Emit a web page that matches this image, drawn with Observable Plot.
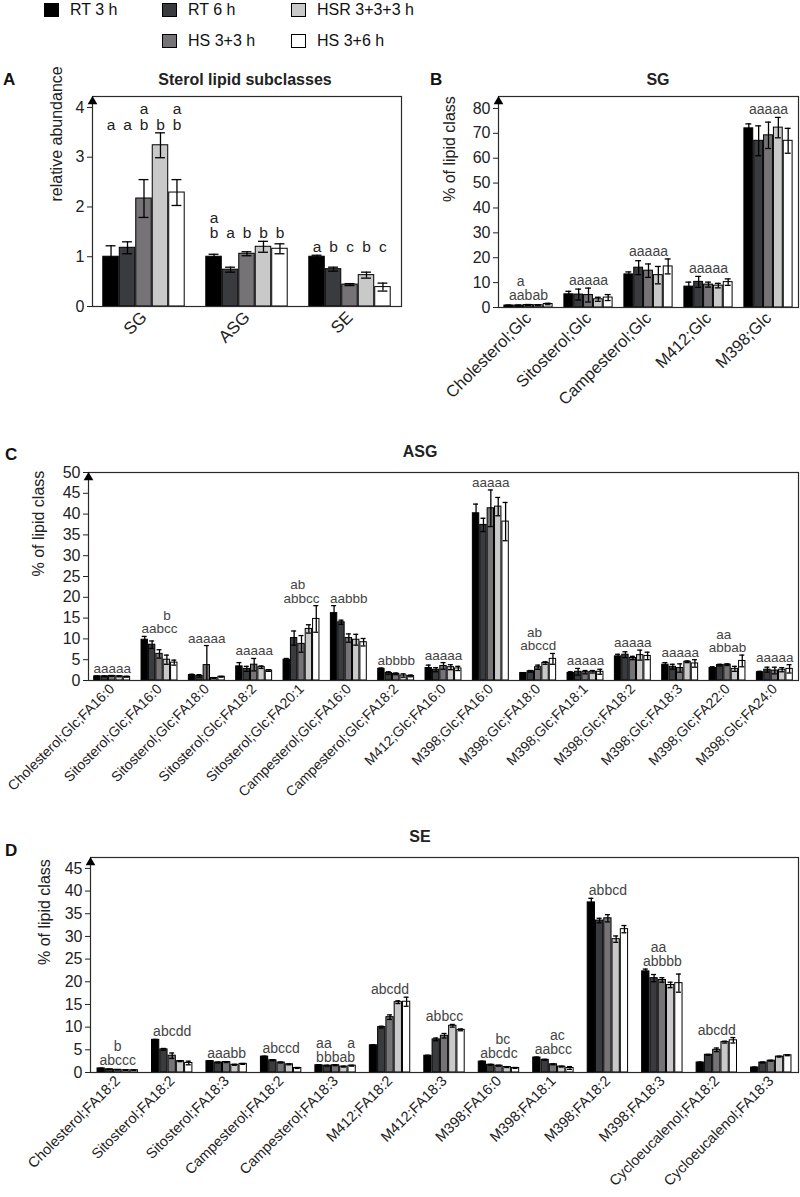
<!DOCTYPE html>
<html><head><meta charset="utf-8">
<script src="https://cdn.jsdelivr.net/npm/d3@7"></script>
<script src="https://cdn.jsdelivr.net/npm/@observablehq/plot@0.6"></script>
<style>
body{margin:0;background:#fff;font-family:"Liberation Sans",Arial,sans-serif;}
#root{position:relative;width:800px;height:1197px;overflow:hidden;background:#fff;}
.abs{position:absolute;line-height:18px;white-space:nowrap;}
.title{font-weight:bold;font-size:16px;color:#222;transform:translateX(-50%);}
.plabel{font-weight:bold;font-size:17px;color:#111;}
.leg{font-size:16px;color:#111;}
.sw{position:absolute;width:15px;height:14px;border:1px solid #000;box-sizing:border-box;}
svg{overflow:visible;}
</style></head><body><div id="root"></div>
<script>
const series = ["RT 3 h","RT 6 h","HS 3+3 h","HSR 3+3+3 h","HS 3+6 h"];
const colors = ["#000000","#3a3b3e","#767376","#c9c9c9","#ffffff"];

// Panel A
const aCats = ["SG","ASG","SE"];
const aMeans = [[1.0,1.18,2.17,3.24,2.29],[1.0,0.74,1.06,1.20,1.16],[1.0,0.75,0.44,0.63,0.39]];
const aErrs = [[0.22,0.12,0.38,0.25,0.26],[0.05,0.05,0.04,0.11,0.10],[0.03,0.04,0.02,0.06,0.08]];
const aTop = ["  a a","a    ","     "];
const aBot = ["aabbb","babbb","abcbc"];
const aTicks = [0,1,2,3,4];

// Panel B
const bCats = ["Cholesterol;Glc","Sitosterol;Glc","Campesterol;Glc","M412;Glc","M398;Glc"];
const bMeans = [[0.8,0.8,1.0,0.9,1.4],[5.3,5.2,5.0,3.3,4.0],[13.3,16.0,14.8,13.0,16.5],[8.4,10.3,9.2,8.8,10.2],[72.0,67.0,69.2,72.3,67.0]];
const bErrs = [[0.2,0.2,0.2,0.2,0.3],[1.2,2.2,2.8,0.8,1.2],[1.0,2.8,2.7,3.5,3.0],[1.8,2.2,1.0,0.9,1.3],[1.8,6.0,5.3,4.1,5.0]];
const bTop = [" a   ","     ","     ","     ","     "];
const bBot = ["aabab","aaaaa","aaaaa","aaaaa","aaaaa"];
const bTicks = [0,10,20,30,40,50,60,70,80];

// Panel C
const cCats = ["Cholesterol;Glc;FA16:0","Sitosterol;Glc;FA16:0","Sitosterol;Glc;FA18:0","Sitosterol;Glc;FA18:2","Sitosterol;Glc;FA20:1","Campesterol;Glc;FA16:0","Campesterol;Glc;FA18:2","M412;Glc;FA16:0","M398;Glc;FA16:0","M398;Glc;FA18:0","M398;Glc;FA18:1","M398;Glc;FA18:2","M398;Glc;FA18:3","M398;Glc;FA22:0","M398;Glc;FA24:0"];
const cMeans = [
  [1.0,1.0,1.1,1.0,0.9],[9.8,8.6,6.4,5.0,4.3],[1.3,1.1,3.7,0.6,0.9],[3.4,2.8,3.8,3.2,2.4],
  [5.0,10.2,8.8,12.4,14.8],[16.2,14.0,10.2,9.8,9.2],[2.8,1.8,1.6,1.2,1.1],[3.0,2.6,3.5,3.2,2.9],
  [40.2,37.4,41.4,41.8,38.2],[1.8,2.2,3.2,4.2,5.2],[1.8,2.1,2.0,2.1,2.1],[5.8,6.2,5.4,6.1,5.9],
  [3.8,3.3,3.0,4.5,4.1],[3.0,3.7,3.8,2.8,4.7],[2.0,2.6,2.4,2.6,2.8]];
const cErrs = [
  [0.1,0.1,0.1,0.1,0.1],[0.8,0.9,1.0,1.1,0.6],[0.2,0.3,4.7,0.1,0.1],[0.9,0.6,1.5,0.3,0.2],
  [0.3,1.7,2.0,1.0,3.2],[1.8,0.5,1.0,1.3,0.9],[0.2,0.3,0.2,0.4,0.2],[0.7,0.5,0.8,0.6,0.5],
  [2.2,1.6,4.4,2.2,4.6],[0.1,0.2,0.5,0.3,1.3],[0.3,0.8,0.4,0.3,0.6],[0.5,0.7,0.4,1.2,0.9],
  [0.5,0.6,1.0,0.2,0.9],[0.3,0.2,0.2,0.6,1.4],[0.2,0.6,0.8,0.5,1.0]];
const cTop = ["     ","   b ","     ","     "," ab  ","     ","     ","     ","     "," ab  ","     ","     ","     "," aa  ","     "];
const cBot = ["aaaaa","aabcc","aaaaa","aaaaa","abbcc","aabbb","abbbb","aaaaa","aaaaa","abccd","aaaaa","aaaaa","aaaaa","abbab","aaaaa"];
const cTicks = [0,5,10,15,20,25,30,35,40,45,50];

// Panel D
const dCats = ["Cholesterol;FA18:2","Sitosterol;FA18:2","Sitosterol;FA18:3","Campesterol;FA18:2","Campesterol;FA18:3","M412;FA18:2","M412;FA18:3","M398;FA16:0","M398;FA18:1","M398;FA18:2","M398;FA18:3","Cycloeucalenol;FA18:2","Cycloeucalenol;FA18:3"];
const dMeans = [
  [0.9,0.7,0.6,0.5,0.5],[7.2,5.1,3.7,2.5,2.1],[2.5,2.2,2.3,1.7,1.9],[3.5,2.7,2.2,1.8,1.0],
  [1.6,1.5,1.6,1.3,1.5],[6.0,10.0,12.2,15.5,15.6],[3.7,7.3,8.1,10.3,9.4],[2.4,1.7,1.5,1.2,1.0],
  [3.3,2.8,1.8,1.3,1.0],[37.5,33.5,34.0,29.4,31.6],[22.3,20.8,20.4,19.3,19.7],[2.2,3.9,5.0,6.7,7.1],
  [1.1,2.2,2.6,3.5,3.8]];
const dErrs = [
  [0.05,0.05,0.05,0.05,0.05],[0.1,0.2,0.6,0.1,0.4],[0.1,0.1,0.1,0.1,0.1],[0.1,0.1,0.1,0.1,0.1],
  [0.1,0.1,0.1,0.1,0.1],[0.1,0.2,0.5,0.3,1.0],[0.1,0.3,0.5,0.3,0.2],[0.1,0.1,0.1,0.1,0.1],
  [0.1,0.1,0.1,0.1,0.3],[0.9,0.5,0.8,0.7,0.8],[0.5,0.8,0.5,0.6,2.0],[0.1,0.1,0.4,0.2,0.6],
  [0.1,0.1,0.1,0.1,0.1]];
const dTop = ["  b  ","     ","     ","     ","aa  a","     ","     ","  bc ","  ac ","     "," aa  ","     ","     "];
const dBot = ["abccc","abcdd","aaabb","abccd","bbbab","abcdd","abbcc","abcdc","aabcc","abbcd","abbbb","abcdd","     "];
const dTicks = [0,5,10,15,20,25,30,35,40,45];

const FONT = "Liberation Sans, Arial, sans-serif";
const NB = "\u00a0\u00a0"; // two no-break spaces ~ one letter width
const root = document.getElementById("root");

function panel(o) {
  const {cats, means, errs, tops, bots} = o;
  const rows = [];
  cats.forEach((c, ci) => series.forEach((s, si) => rows.push({cat: c, si, mean: means[ci][si], err: errs[ci][si]})));
  const innerW = o.width - o.mL - o.mR;
  const step = innerW / cats.length;
  const groupW = step * (1 - o.pad);
  const barW = groupW / 5;
  const off0 = (step - groupW) / 2;
  const capHalf = Math.max(2.5, barW * 0.3);
  const marks = [];
  for (let i = 0; i < 5; i++) {
    const d = rows.filter(r => r.si === i);
    marks.push(Plot.barY(d, {x: "cat", y: "mean", fill: colors[i], stroke: "#000", strokeWidth: 1,
      insetLeft: off0 + i * barW + 0.5, insetRight: step - off0 - (i + 1) * barW + 0.5}));
  }
  for (let i = 0; i < 5; i++) {
    const d = rows.filter(r => r.si === i);
    const dx = -groupW / 2 + (i + 0.5) * barW;
    marks.push(Plot.ruleX(d, {x: "cat", y1: r => Math.max(0, r.mean - r.err), y2: r => r.mean + r.err, dx, stroke: "#000", strokeWidth: 1.3}));
    marks.push(Plot.tickY(d, {x: "cat", y: r => r.mean + r.err, insetLeft: step / 2 + dx - capHalf, insetRight: step / 2 - dx - capHalf, stroke: "#000", strokeWidth: 1.3}));
    marks.push(Plot.tickY(d.filter(r => r.mean - r.err > 0), {x: "cat", y: r => r.mean - r.err, insetLeft: step / 2 + dx - capHalf, insetRight: step / 2 - dx - capHalf, stroke: "#000", strokeWidth: 1.3}));
  }
  // significance letters (compact letter display), stacked in two lines
  const groupMax = ci => d3.max(means[ci].map((m, k) => m + errs[ci][k]));
  const tOpts = {x: "cat", y: "ymax", text: "t", lineAnchor: "bottom", lineHeight: o.lh, fontSize: o.lFont, fill: o.lColor, dy: -o.lOff};
  if (o.perBar) {
    for (let i = 0; i < 5; i++) {
      const d = cats.map((c, ci) => {
        const lines = [tops[ci][i], bots[ci][i]].filter(ch => ch !== " ");
        return {cat: c, ymax: groupMax(ci), t: lines.join("\n")};
      }).filter(t => t.t);
      marks.push(Plot.text(d, {...tOpts, dx: -groupW / 2 + (i + 0.5) * barW}));
    }
  } else {
    const d = cats.map((c, ci) => {
      const lines = [tops[ci], bots[ci]].filter(s => s.trim()).map(s => s.replace(/ /g, NB));
      return {cat: c, ymax: groupMax(ci), t: lines.join("\n")};
    }).filter(t => t.t);
    marks.push(Plot.text(d, tOpts));
  }
  marks.push(Plot.ruleY([0], {stroke: "#000", strokeWidth: 1.2}));
  marks.push(Plot.frame({stroke: "#2a2a2a", strokeWidth: 1.2}));
  marks.push(Plot.axisY({ticks: o.ticks, tickFormat: d3.format("d"), tickSize: 5, tickPadding: 3, fontSize: 16, label: null}));
  marks.push(Plot.axisX({tickRotate: o.rot, tickSize: 0, tickPadding: o.xPad, fontSize: o.xFont, label: null}));
  marks.push(Plot.text([o.yLabel], {frameAnchor: "left", rotate: -90, dx: -o.yLabOff, text: d => d, fontSize: 16, fill: "#222"}));
  marks.push(Plot.dot([0], {frameAnchor: "top-left", symbol: "triangle", r: 3.6, fill: "#000", stroke: "none", dy: 5}));
  const svg = Plot.plot({
    width: o.width, height: o.height,
    marginLeft: o.mL, marginRight: o.mR, marginTop: o.mT, marginBottom: o.mB,
    style: {fontFamily: FONT, fontSize: "16px", color: "#222", background: "transparent", overflow: "visible"},
    x: {domain: cats, padding: 0, round: false},
    y: {domain: o.yDomain},
    marks
  });
  svg.style.position = "absolute";
  svg.style.left = o.left + "px";
  svg.style.top = o.top + "px";
  root.appendChild(svg);
}

panel({cats: aCats, means: aMeans, errs: aErrs, tops: aTop, bots: aBot, ticks: aTicks, yDomain: [0, 4.22],
  left: 0, top: 90, width: 410, height: 262, mL: 92, mR: 9, mT: 6, mB: 46, pad: 0.2, rot: -45, xFont: 17, xPad: 8,
  perBar: true, lFont: 15.5, lh: 1.0, lColor: "#222", lOff: 3, yLabel: "relative abundance", yLabOff: 36});
panel({cats: bCats, means: bMeans, errs: bErrs, tops: bTop, bots: bBot, ticks: bTicks, yDomain: [0, 84.8],
  left: 410, top: 90, width: 390, height: 300, mL: 88, mR: 2, mT: 6, mB: 83, pad: 0.18, rot: -45, xFont: 16.5, xPad: 8,
  lFont: 14, lh: 1.0, lColor: "#444", lOff: 3, yLabel: "% of lipid class", yLabOff: 49});
panel({cats: cCats, means: cMeans, errs: cErrs, tops: cTop, bots: cBot, ticks: cTicks, yDomain: [0, 50],
  left: 0, top: 440, width: 800, height: 360, mL: 88, mR: 2, mT: 32, mB: 120, pad: 0.22, rot: -45, xFont: 14, xPad: 6,
  lFont: 13.5, lh: 1.0, lColor: "#444", lOff: 3, yLabel: "% of lipid class", yLabOff: 50});
panel({cats: dCats, means: dMeans, errs: dErrs, tops: dTop, bots: dBot, ticks: dTicks, yDomain: [0, 47.4],
  left: 0, top: 820, width: 800, height: 377, mL: 90, mR: 2, mT: 37, mB: 125, pad: 0.24, rot: -45, xFont: 14.5, xPad: 6,
  lFont: 14, lh: 1.0, lColor: "#444", lOff: 3, yLabel: "% of lipid class", yLabOff: 46});

function addDiv(cls, text, left, top) {
  const el = document.createElement("div");
  el.className = "abs " + cls;
  el.textContent = text;
  el.style.left = left + "px";
  el.style.top = top + "px";
  root.appendChild(el);
}
addDiv("title", "Sterol lipid subclasses", 245, 71);
addDiv("title", "SG", 658, 71);
addDiv("title", "ASG", 420, 443);
addDiv("title", "SE", 420, 828);
addDiv("plabel", "A", 3, 71);
addDiv("plabel", "B", 430, 71);
addDiv("plabel", "C", 5, 446);
addDiv("plabel", "D", 5, 842);

const legPos = [[44, 3], [162, 3], [162, 34], [291, 3], [291, 34]];
series.forEach((s, i) => {
  const sw = document.createElement("div");
  sw.className = "sw";
  sw.style.left = legPos[i][0] + "px";
  sw.style.top = legPos[i][1] + "px";
  sw.style.background = colors[i];
  root.appendChild(sw);
  addDiv("leg", s, legPos[i][0] + 26, legPos[i][1] - 2);
});
</script></body></html>
